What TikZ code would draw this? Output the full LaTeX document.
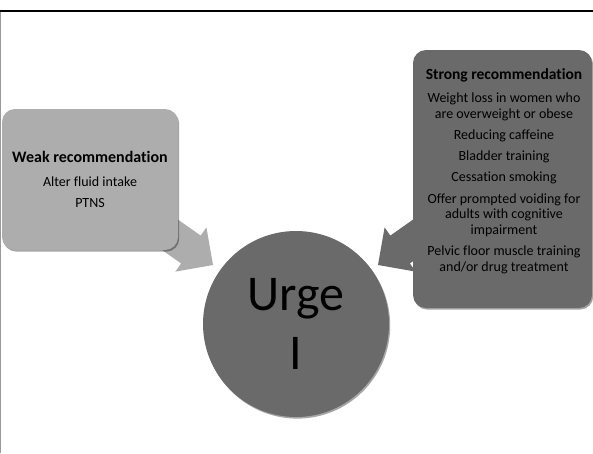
\documentclass[tikz,border=0pt]{standalone}
\usepackage{fontspec}
\setmainfont{Carlito}[Ligatures={NoCommon}]
\usetikzlibrary{shadows}
\definecolor{lightbox}{HTML}{ADADAD}
\definecolor{darkbox}{HTML}{6A6A6A}
\definecolor{framegray}{HTML}{9A9A9A}
\tikzset{
  softshadow/.style={drop shadow={shadow xshift=1.2pt, shadow yshift=-1.6pt, opacity=0.35, fill=black}},
  recbox/.style={rectangle, rounded corners=13pt, inner sep=0pt, softshadow},
  rectext/.style={align=center, inner sep=0pt, text=black},
}
\begin{document}
\begin{tikzpicture}[x=1pt,y=-1pt]
\useasboundingbox (0,0) rectangle (593,453);
\fill[white] (0,0) rectangle (593,453);
% frame lines
\draw[line width=2pt] (0,11) -- (593,11);
\draw[framegray, line width=1.3pt] (0.65,12) -- (0.65,453);

% arrows (drawn first, behind boxes)
\fill[lightbox] (132,229) -- (181.1,263.4) -- (175.4,271.6) -- (213,265) -- (206.4,227.4) -- (200.7,235.6) -- (151.6,201) -- cycle;
\fill[darkbox] (459,229) -- (409.9,263.4) -- (415.6,271.6) -- (378,265) -- (384.6,227.4) -- (390.3,235.6) -- (439.4,201) -- cycle;

% boxes
\node[recbox, fill=lightbox, minimum width=176pt, minimum height=141pt] (weak) at (90,179.5) {};
\node[recbox, fill=darkbox, minimum width=179pt, minimum height=258pt] (strong) at (502.5,179) {};

% box texts
\node[rectext, anchor=north, font=\fontsize{14}{21}\selectfont] (weaktxt) at (90,151.5)
  {{\bfseries\fontsize{16}{21}\selectfont Weak recommendation}\\[3pt]
   Alter fluid intake\\
   PTNS};
\node[rectext, anchor=north, font=\fontsize{14}{15.75}\selectfont] (strongtxt) at (504,68.5)
  {{\bfseries\fontsize{15.5}{15.75}\selectfont Strong recommendation}\\[7pt]
   Weight loss in women who\\
   are overweight or obese\\[5.5pt]
   Reducing caffeine\\[5.5pt]
   Bladder training\\[5.5pt]
   Cessation smoking\\[5.5pt]
   Offer prompted voiding for\\
   adults with cognitive\\
   impairment\\[5.5pt]
   Pelvic floor muscle training\\
   and/or drug treatment};

% central circle
\node[circle, fill=darkbox, minimum size=186pt, inner sep=0pt, softshadow,
      align=center, font=\fontsize{50}{59}\selectfont, text=black] (urge) at (296,324)
  {Urge\\I};
\end{tikzpicture}
\end{document}
